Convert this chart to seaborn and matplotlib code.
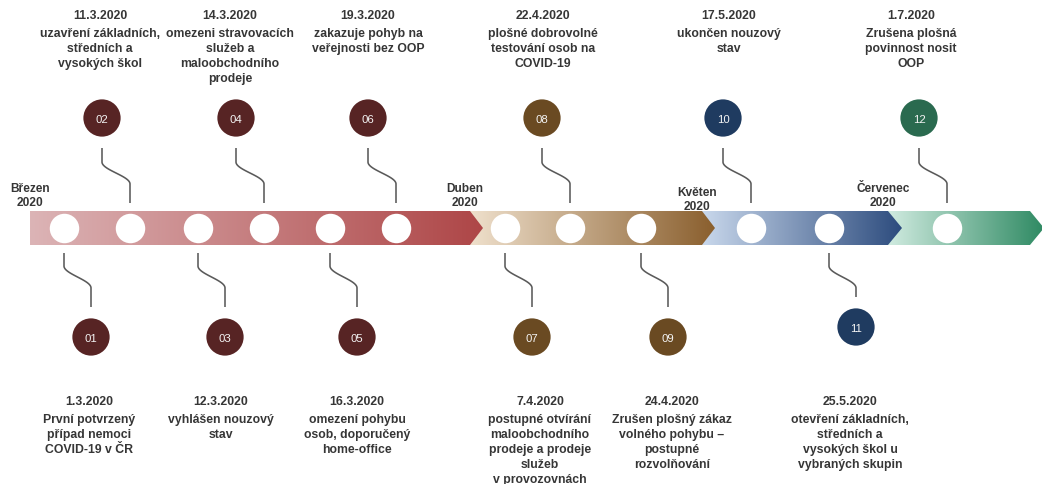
import numpy as np
import pandas as pd
import seaborn as sns
import matplotlib.pyplot as plt
from matplotlib.patches import Polygon
from matplotlib.colors import to_rgb

# events of the timeline (order = number in circle)
numbers = ['01', '02', '03', '04', '05', '06', '07', '08', '09', '10', '11', '12']
dates = ['1.3.2020', '11.3.2020', '12.3.2020', '14.3.2020', '16.3.2020', '19.3.2020',
         '7.4.2020', '22.4.2020', '24.4.2020', '17.5.2020', '25.5.2020', '1.7.2020']
texts = [
  ['První potvrzený', 'případ nemoci', 'COVID-19 v ČR'],
  ['uzavření základních,', 'středních a', 'vysokých škol'],
  ['vyhlášen nouzový', 'stav'],
  ['omezeni stravovacích', 'služeb a', 'maloobchodního', 'prodeje'],
  ['omezení pohybu', 'osob, doporučený', 'home-office'],
  ['zakazuje pohyb na', 'veřejnosti bez OOP'],
  ['postupné otvírání', 'maloobchodního', 'prodeje a prodeje', 'služeb', 'v provozovnách'],
  ['plošné dobrovolné', 'testování osob na', 'COVID-19'],
  ['Zrušen plošný zákaz', 'volného pohybu –', 'postupné', 'rozvolňování'],
  ['ukončen nouzový', 'stav'],
  ['otevření základních,', 'středních a', 'vysokých škol u', 'vybraných skupin'],
  ['Zrušena plošná', 'povinnost nosit', 'OOP'],
]
event_month = ['Březen', 'Březen', 'Březen', 'Březen', 'Březen', 'Březen',
               'Duben', 'Duben', 'Duben', 'Květen', 'Květen', 'Červenec']

months = ['Březen', 'Duben', 'Květen', 'Červenec']
month_year = ['2020', '2020', '2020', '2020']

# layout (pixel-like units, y grows downwards)
seg_start = [30, 470, 702, 888]
seg_base = [470, 702, 888, 1030]
seg_tip = [483, 715, 902, 1044]
band_top, band_bot = 212, 246
slot_x = [64, 130, 198, 264, 330, 396, 505, 570, 641, 751, 829, 947]
label_dx = [-2, -2, -4, -6, 0, 0, 8, 1, 4, 6, -6, -8]
month_label_pos = [(30, 189), (465, 189), (697, 193), (883, 189)]

seg_light = ['#dcb4b6', '#efe0cc', '#c9d8ec', '#d0ebe0']
seg_dark = ['#ae4647', '#8a5f2e', '#2d4c7e', '#2f8a63']
circle_colors = {'Březen': '#572424', 'Duben': '#6a4a22', 'Květen': '#1f3b60', 'Červenec': '#2a6a4f'}
text_color = '#363636'
fs = 8.8

sns.set_theme(style='white')
plt.rcParams['font.family'] = ['Liberation Sans', 'DejaVu Sans']

fig = plt.figure(figsize=(10.42, 4.85), dpi=100)
ax = fig.add_axes([0, 0, 1, 1])

# gradient chevrons, drawn last-to-first so each tip overlaps the next one
mid = (band_top + band_bot) / 2
for i in reversed(range(len(months))):
  x0, xb, xt = seg_start[i], seg_base[i], seg_tip[i]
  poly = Polygon([(x0, band_top), (xb, band_top), (xt, mid), (xb, band_bot), (x0, band_bot)],
                 closed=True, facecolor='none', edgecolor='none')
  ax.add_patch(poly)
  c0, c1 = np.array(to_rgb(seg_light[i])), np.array(to_rgb(seg_dark[i]))
  t = np.linspace(0, 1, 256)[:, None]
  grad = (c0 * (1 - t) + c1 * t)[None, :, :]
  im = ax.imshow(grad, extent=(x0, xt, band_bot, band_top), aspect='auto',
                 interpolation='bilinear', zorder=1 + (len(months) - i))
  im.set_clip_path(poly)

# month labels
for m, yr, (mx, my) in zip(months, month_year, month_label_pos):
  ax.text(mx, my, m, ha='center', va='center', fontsize=8.6, fontweight='bold', color=text_color)
  ax.text(mx, my + 14, yr, ha='center', va='center', fontsize=8.6, fontweight='bold', color=text_color)

# event table
top = [i % 2 == 1 for i in range(len(numbers))]
df = pd.DataFrame({
  'num': numbers, 'date': dates, 'month': event_month, 'top': top,
  'slot': slot_x,
})
df['cx'] = np.where(df['top'], df['slot'] - 28, df['slot'] + 27)
df['cy'] = np.where(df['top'], 119, 338)
df.loc[df['num'] == '11', 'cy'] = 328
df['band_y'] = mid

# white dots on the band
sns.scatterplot(data=df, x='slot', y='band_y', color='white', s=450, linewidth=0,
                legend=False, ax=ax, zorder=10)
# numbered circles
sns.scatterplot(data=df, x='cx', y='cy', hue='month', palette=circle_colors, s=720,
                linewidth=0, legend=False, ax=ax, zorder=10)


def connector(x_band, x_circ, y_a, y_b, y_c, y_d):
  # vertical at the circle side, S-bend over to the band side, vertical again
  t = np.linspace(0, 1, 60)
  xs = np.concatenate([[x_circ, x_circ], x_circ + (x_band - x_circ) * (1 - np.cos(np.pi * t)) / 2, [x_band]])
  ys = np.concatenate([[y_a, y_b], y_b + (y_c - y_b) * t, [y_d]])
  ax.plot(xs, ys, color='#5a5a5a', lw=1.15, solid_capstyle='butt', zorder=4)


for _, r in df.iterrows():
  if r['top']:
    connector(r['slot'], r['cx'], r['cy'] + 30, r['cy'] + 44, r['cy'] + 66, 204)
  else:
    connector(r['slot'], r['cx'], r['cy'] - 30, 289, 267, 254)
  ax.text(r['cx'], r['cy'] + 1, r['num'], ha='center', va='center', fontsize=8.2,
          color='#f4f4f4', zorder=11)

# labels
for i, r in df.iterrows():
  lx = r['cx'] + label_dx[i]
  y0 = 16 if r['top'] else 402
  ax.text(lx, y0, r['date'], ha='center', va='center', fontsize=fs,
          fontweight='bold', color=text_color)
  for k, ln in enumerate(texts[i]):
    ax.text(lx, y0 + 18 + 15 * k, ln, ha='center', va='center', fontsize=fs,
            fontweight='bold', color=text_color)

ax.set_xlim(0, 1042)
ax.set_ylim(485, 0)
ax.axis('off')
fig.savefig('out.png', dpi=100, facecolor='white')
